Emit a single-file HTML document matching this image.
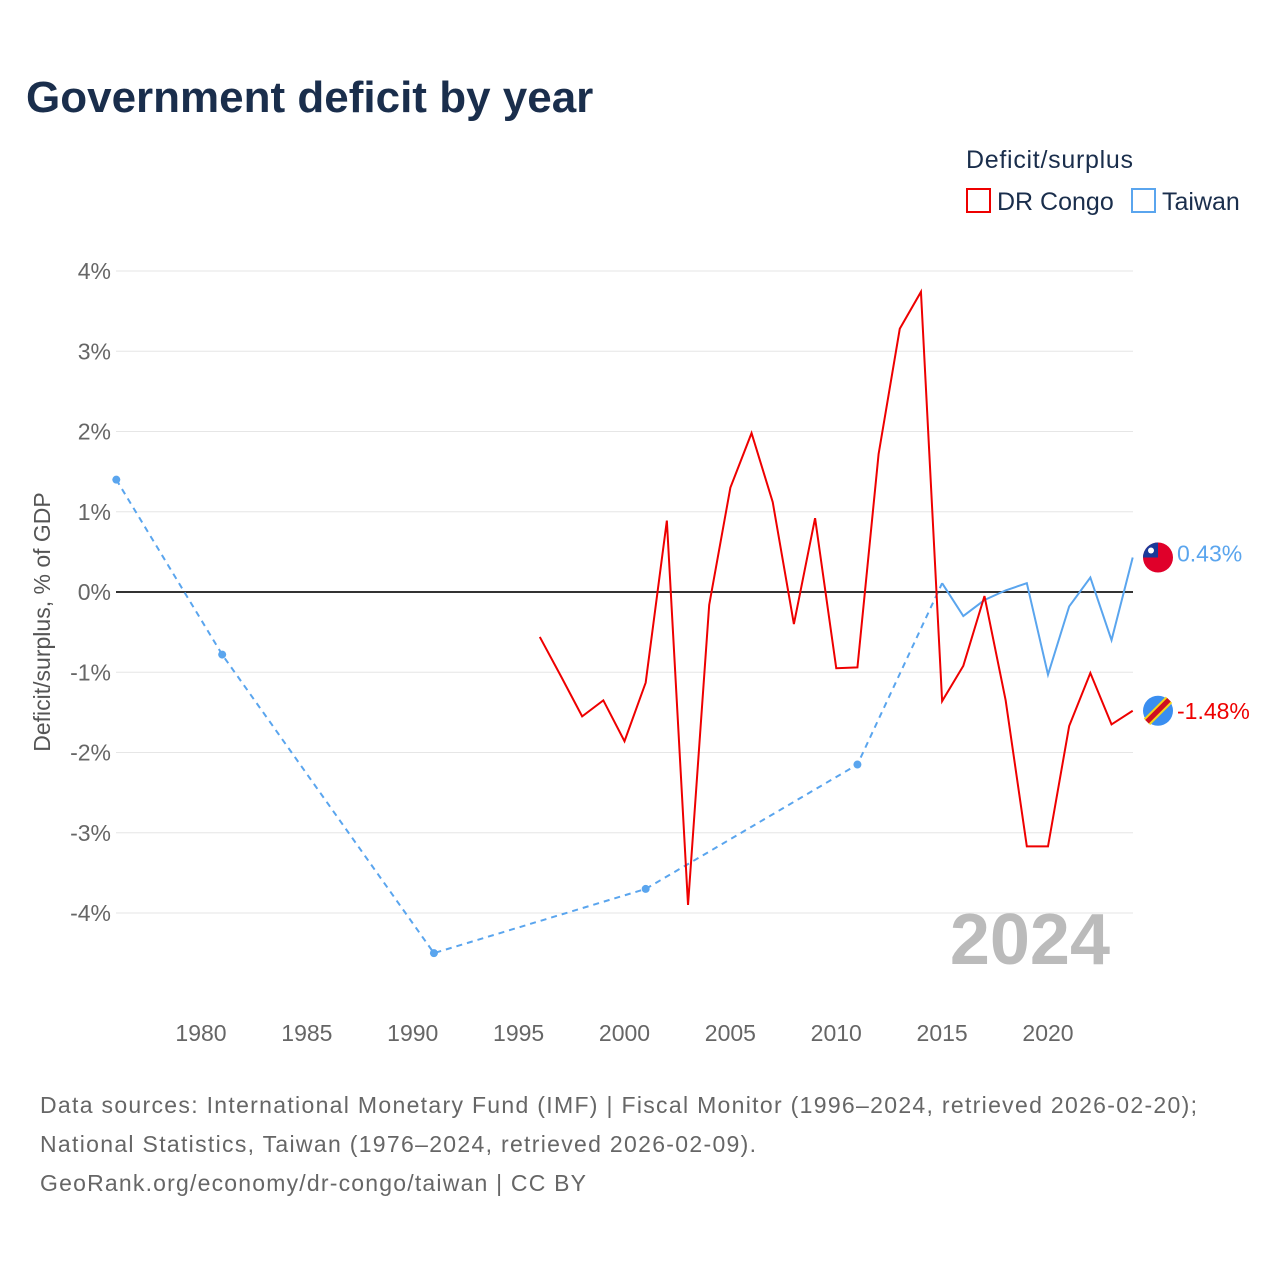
<!DOCTYPE html>
<html><head><meta charset="utf-8"><style>
body{margin:0;background:#fff;font-family:"Liberation Sans",sans-serif;}
svg text{font-family:"Liberation Sans",sans-serif;}
</style></head><body>
<svg id="chart" width="1280" height="1280" viewBox="0 0 1280 1280" xmlns="http://www.w3.org/2000/svg">
<text x="26" y="112" font-size="44" font-weight="bold" fill="#1a2e4c">Government deficit by year</text>
<text x="966" y="168" font-size="25" fill="#1a2e4c" textLength="167">Deficit/surplus</text>
<g><rect x="967" y="189" width="23" height="23" fill="none" stroke="#e00" stroke-width="2"/><text x="997" y="210" font-size="25" fill="#1a2e4c">DR Congo</text></g>
<g><rect x="1132" y="189" width="23" height="23" fill="none" stroke="#5aa5ee" stroke-width="2"/><text x="1162" y="210" font-size="25" fill="#1a2e4c">Taiwan</text></g>
<g id="grid"></g><g id="xt"></g><g id="series"></g>
<text x="1110" y="964" font-size="72" font-weight="bold" fill="#bbb" text-anchor="end">2024</text>
<text transform="translate(50,622) rotate(-90)" font-size="23" fill="#555" text-anchor="middle">Deficit/surplus, % of GDP</text>
<g font-size="23" fill="#666">
<text x="40" y="1113" textLength="1157">Data sources: International Monetary Fund (IMF) | Fiscal Monitor (1996–2024, retrieved 2026-02-20);</text>
<text x="40" y="1152" textLength="716">National Statistics, Taiwan (1976–2024, retrieved 2026-02-09).</text>
<text x="40" y="1191" textLength="546">GeoRank.org/economy/dr-congo/taiwan | CC BY</text></g>
</svg>
<script>
const yTicks=[4,3,2,1,0,-1,-2,-3,-4];
const xTicks=[1980,1985,1990,1995,2000,2005,2010,2015,2020];
const congoYears=[1996,1997,1998,1999,2000,2001,2002,2003,2004,2005,2006,2007,2008,2009,2010,2011,2012,2013,2014,2015,2016,2017,2018,2019,2020,2021,2022,2023,2024];
const congoValues=[-0.56,-1.05,-1.55,-1.35,-1.86,-1.13,0.89,-3.9,-0.16,1.3,1.98,1.12,-0.4,0.92,-0.95,-0.94,1.72,3.28,3.74,-1.36,-0.92,-0.05,-1.35,-3.17,-3.17,-1.67,-1.01,-1.65,-1.48];
const taiwanSparseYears=[1976,1981,1991,2001,2011,2015];
const taiwanSparseValues=[1.4,-0.78,-4.5,-3.7,-2.15,0.11];
const taiwanYears=[2015,2016,2017,2018,2019,2020,2021,2022,2023,2024];
const taiwanValues=[0.11,-0.3,-0.1,0.02,0.11,-1.03,-0.18,0.18,-0.6,0.43];
const X=y=>201+(y-1980)*21.175, Y=v=>592-v*80.25;
const NS="http://www.w3.org/2000/svg";
function mk(tag,attrs,parent,text){const e=document.createElementNS(NS,tag);for(const k in attrs)e.setAttribute(k,attrs[k]);if(text!=null)e.textContent=text;parent.appendChild(e);return e;}
const g=document.getElementById('grid'),xt=document.getElementById('xt'),s=document.getElementById('series');
yTicks.forEach(t=>{
 const l=mk('line',{x1:116,x2:1133,y1:Y(t),y2:Y(t),stroke:t===0?'#333':'#e6e6e6','stroke-width':t===0?2:1},g);
 
 
 const tx=mk('text',{x:111,y:Y(t)+8,'font-size':23,fill:'#666','text-anchor':'end'},g,t+'%');
 
 
});
xTicks.forEach(t=>{
 const tx=mk('text',{x:X(t),y:1041,'font-size':23,fill:'#666','text-anchor':'middle'},xt,String(t));
 
 
});
const pts=(ys,vs)=>ys.map((y,i)=>X(y)+','+Y(vs[i])).join(' ');
const td=mk('polyline',{points:pts(taiwanSparseYears,taiwanSparseValues),fill:'none',stroke:'#5aa5ee','stroke-width':2,'stroke-dasharray':'6,5'},s);


taiwanSparseYears.slice(0,5).forEach((y,i)=>{const c=mk('circle',{cx:X(y),cy:Y(taiwanSparseValues[i]),r:4,fill:'#5aa5ee'},s);
 
 });
const tl=mk('polyline',{points:pts(taiwanYears,taiwanValues),fill:'none',stroke:'#5aa5ee','stroke-width':2},s);


const cl=mk('polyline',{points:pts(congoYears,congoValues),fill:'none',stroke:'#e00','stroke-width':2},s);


const tv=taiwanValues[taiwanValues.length-1],cv=congoValues[congoValues.length-1];
const fx=1158;
const f1=mk('g',{},s);


mk('circle',{cx:fx,cy:Y(tv),r:15,fill:'#e0002a'},f1);
mk('path',{d:`M${fx-15},${Y(tv)} A15,15 0 0 1 ${fx},${Y(tv)-15} L${fx},${Y(tv)} Z`,fill:'#1a3a9a'},f1);
mk('circle',{cx:fx-7,cy:Y(tv)-7,r:3,fill:'#fff'},f1);
const l1=mk('text',{x:1177,y:Y(tv)+4,'font-size':23,fill:'#5aa5ee'},s,tv.toFixed(2)+'%');


const f2=mk('g',{},s);


mk('circle',{cx:fx,cy:Y(cv),r:15,fill:'#3a8ef0'},f2);
mk('line',{x1:fx-11,y1:Y(cv)+11,x2:fx+11,y2:Y(cv)-11,stroke:'#f7d618','stroke-width':9},f2);
mk('line',{x1:fx-11,y1:Y(cv)+11,x2:fx+11,y2:Y(cv)-11,stroke:'#ce1021','stroke-width':5},f2);
const l2=mk('text',{x:1177,y:Y(cv)+8,'font-size':23,fill:'#e00'},s,cv.toFixed(2)+'%');


</script></body></html>
